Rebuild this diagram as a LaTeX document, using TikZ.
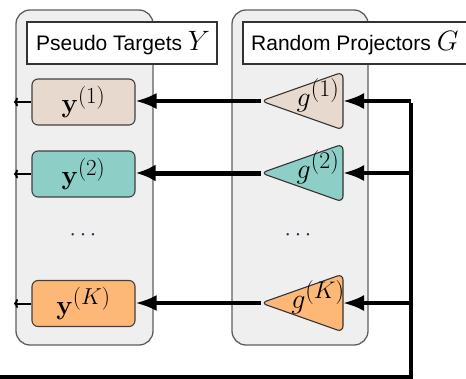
\RequirePackage{fix-cm}
\documentclass[tikz,border=0pt]{standalone}
\usepackage[no-math]{fontspec}
\newfontfamily\labfont{Liberation Sans}
\usetikzlibrary{arrows.meta}
\DeclareMathSizes{27}{27}{23}{17}
\DeclareMathSizes{28}{28}{24}{18}
\definecolor{panelfill}{HTML}{EFEFEF}
\definecolor{paneldraw}{HTML}{5E5E5E}
\definecolor{cbeige}{HTML}{E8D9CF}
\definecolor{cteal}{HTML}{8DCFC6}
\definecolor{corange}{HTML}{FDB878}
\definecolor{dotcol}{HTML}{1A2E5A}
\tikzset{
  panel/.style={draw=paneldraw, line width=1.3pt, fill=panelfill, rounded corners=14pt, inner sep=0pt},
  labbox/.style={draw=black!80, line width=1.2pt, fill=white, inner sep=0pt},
  labtext/.style={inner sep=0pt, anchor=west, font=\labfont\fontsize{21}{24}\selectfont},
  ybox/.style={draw=black!75, line width=1.1pt, rounded corners=6pt, minimum width=103pt, minimum height=46pt, inner sep=0pt, font=\fontsize{27}{30}\selectfont},
  gtri/.style={draw=black!80, line width=1.1pt, rounded corners=6pt},
  gtext/.style={inner sep=0pt, font=\fontsize{28}{30}\selectfont},
  feed/.style={line width=3.6pt, -{Latex[length=21pt,width=16pt]}},
  outl/.style={line width=2pt, -{To[length=4pt,width=9pt]}},
  trunk/.style={line width=4pt, line join=miter, line cap=butt},
  dotsty/.style={inner sep=0pt, text=dotcol, font=\fontsize{23}{25}\selectfont}
}
\begin{document}
\begin{tikzpicture}[x=1pt, y=-1pt]
\useasboundingbox (0,0) rectangle (466,378);
% panels
\node[panel, minimum width=137pt, minimum height=335pt] (lp) at (84.5,177.5) {};
\node[panel, minimum width=136pt, minimum height=335pt] (rp) at (300,177.5) {};
% label boxes
\node[labbox, minimum width=190pt, minimum height=42pt] (lb) at (122,43) {};
\node[labtext] (lt) at (36,43) {Pseudo Targets \fontsize{28}{30}\selectfont$Y$};
\node[labbox, minimum width=240pt, minimum height=42pt] (rb) at (363,43) {};
\node[labtext] (rt) at (251,43) {Random Projectors \fontsize{28}{30}\selectfont$G$};
% pseudo targets
\node[ybox, fill=cbeige] (y1) at (83.5,102) {$\mathbf{y}^{(1)}$};
\node[ybox, fill=cteal] (y2) at (83.5,174) {$\mathbf{y}^{(2)}$};
\node[ybox, fill=corange] (yK) at (83.5,303.5) {$\mathbf{y}^{(K)}$};
\node[dotsty] (ld) at (83,235) {$\cdots$};
\node[dotsty] (rd) at (298,235) {$\cdots$};
% projectors (triangles)
\coordinate (g1) at (261,101); \coordinate (g1r) at (343,101);
\coordinate (g2) at (261,173); \coordinate (g2r) at (343,173);
\coordinate (gK) at (261,303); \coordinate (gKr) at (343,303);
\draw[gtri, fill=cbeige] (343,72) -- (g1) -- (343,130) -- cycle;
\draw[gtri, fill=cteal] (343,144) -- (g2) -- (343,202) -- cycle;
\draw[gtri, fill=corange] (343,274) -- (gK) -- (343,332) -- cycle;
\node[gtext] (g1t) at (318,95) {$g^{(1)}$};
\node[gtext] (g2t) at (318,167) {$g^{(2)}$};
\node[gtext] (gKt) at (318,297) {$g^{(K)}$};
% trunk
\coordinate (t1) at (410.5,101);
\coordinate (t2) at (410.5,173);
\coordinate (tK) at (410.5,303);
\coordinate (tb) at (410.5,376.5);
\coordinate (tl) at (-2,376.5);
\draw[trunk] (tl) -- (tb) -- ([yshift=-1.8pt]t1);
\draw[feed] (t1) -- (g1r);
\draw[feed] (t2) -- (g2r);
\draw[feed] (tK) -- (gKr);
% projector -> target
\draw[line width=3.2pt, -{Latex[length=21pt,width=16pt]}] (g1) -- (y1.east |- g1);
\draw[line width=5pt, -{Latex[length=20pt,width=17pt]}] (g2) -- (y2.east |- g2);
\draw[line width=3.4pt, -{Latex[length=21pt,width=16pt]}] (gK) -- (yK.east |- gK);
% outputs
\coordinate (o1) at (14,102);
\coordinate (o2) at (14,174);
\coordinate (oK) at (14,303.5);
\draw[outl] (y1.west) -- (o1);
\draw[outl] (y2.west) -- (o2);
\draw[outl] (yK.west) -- (oK);
\end{tikzpicture}
\end{document}
